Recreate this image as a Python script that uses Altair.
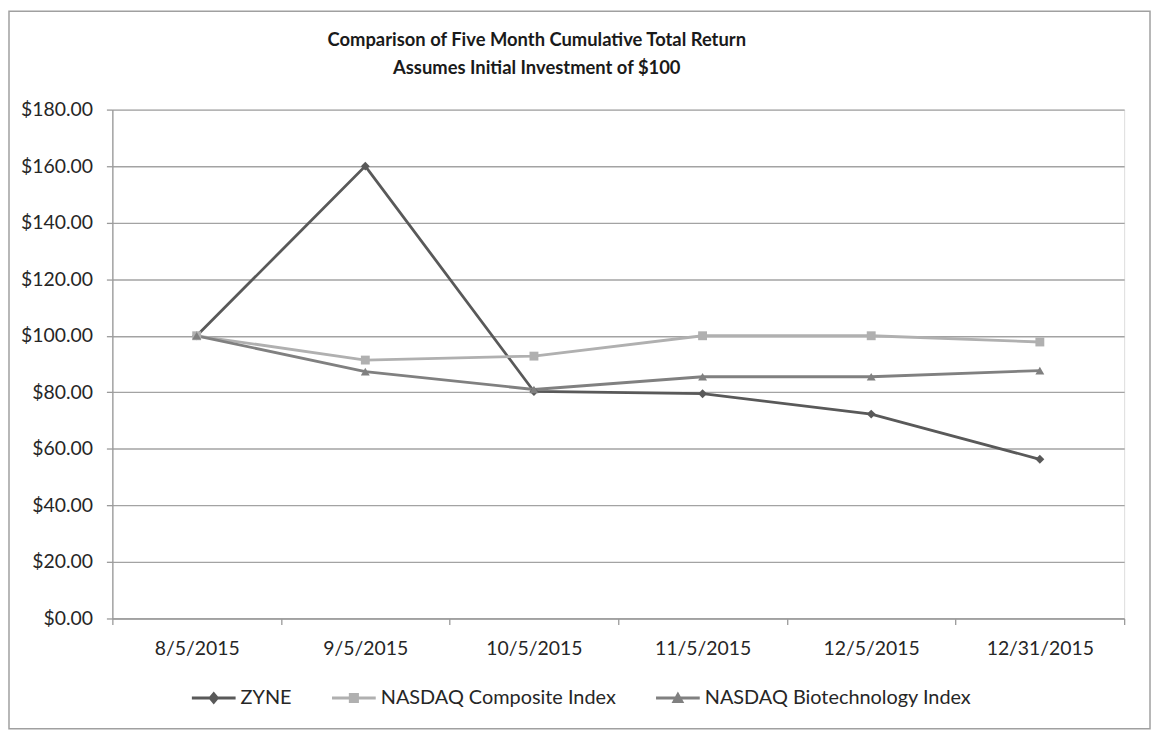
import altair as alt
import pandas as pd

dates = ["8/5/2015", "9/5/2015", "10/5/2015", "11/5/2015", "12/5/2015", "12/31/2015"]
zyne = [100.0, 160.0, 80.3, 79.5, 72.3, 56.3]
composite = [100.0, 91.4, 92.8, 100.0, 100.0, 97.8]
biotech = [100.0, 87.3, 81.0, 85.5, 85.5, 87.7]

series_names = ["ZYNE", "NASDAQ Composite Index", "NASDAQ Biotechnology Index"]
series_vals = [zyne, composite, biotech]
colors = ["#595959", "#b0b0b0", "#808080"]
shapes = ["diamond", "square", "triangle-up"]

rows = []
for name, vals in zip(series_names, series_vals):
    for d, v in zip(dates, vals):
        rows.append({"date": d, "value": v, "series": name})
df = pd.DataFrame(rows)

W, H = 1018, 512
PL, PT, PR, PB = 105, 100, 27, 112
FONT = "Lato"
FS = 19.5

# legend symbols: a short line with the series marker on it
LINE = "M-1,-0.07L1,-0.07L1,0.07L-1,0.07Z"
legend_shapes = [
    LINE + "M0,-0.3L0.25,0L0,0.3L-0.25,0Z",
    LINE + "M-0.23,-0.23L0.23,-0.23L0.23,0.23L-0.23,0.23Z",
    LINE + "M0,-0.3L0.29,0.23L-0.29,0.23Z",
]

x = alt.X("date:N", sort=dates, title=None,
          scale=alt.Scale(type="band", paddingInner=0, paddingOuter=0),
          axis=alt.Axis(labelAngle=0, labelFontSize=FS, labelColor="#262626",
                        labelPadding=15, tickSize=6, tickColor="#9a9a9a",
                        tickBand="extent", tickWidth=1.3,
                        domainColor="#9a9a9a", domainWidth=1.3, grid=False,
                        labelFont=FONT))
y = alt.Y("value:Q", title=None,
          scale=alt.Scale(domain=[0, 180], nice=False),
          axis=alt.Axis(values=list(range(0, 181, 20)), format="$.2f",
                        labelFontSize=FS, labelColor="#262626", labelPadding=14,
                        tickSize=6, tickColor="#9a9a9a", tickWidth=1.3,
                        domainColor="#9a9a9a", domainWidth=1.3,
                        gridColor="#a3a3a3", gridWidth=1.4, labelFont=FONT))

legend = alt.Legend(
    title=None, orient="none", direction="horizontal",
    legendX=80, legendY=H + 58, labelFontSize=20,
    labelColor="#262626", labelFont=FONT, labelLimit=0,
    symbolSize=1936, columnPadding=40, labelOffset=5,
    symbolOpacity=1, symbolStrokeWidth=0)

color = alt.Color("series:N", sort=series_names,
                  scale=alt.Scale(domain=series_names, range=colors),
                  legend=legend)
shape_leg = alt.Shape("series:N", sort=series_names,
                      scale=alt.Scale(domain=series_names, range=legend_shapes),
                      legend=legend)

base = alt.Chart(df)
lines = base.mark_line(strokeWidth=2.8).encode(x=x, y=y, color=color)

# invisible points carry the legend (line + marker symbols)
legend_pts = base.mark_point(filled=True, opacity=0).encode(
    x=x, y=y, color=color, shape=shape_leg)

# visible markers, one layer per series with its own marker shape
marker_layers = [
    base.transform_filter(alt.datum.series == name).mark_point(
        filled=True, size=80, opacity=1, shape=shp).encode(x=x, y=y, color=color)
    for name, shp in zip(series_names, shapes)
]

border = alt.Chart(pd.DataFrame({"a": [0]})).mark_rect(
    fill=None, stroke="#a0a0a0", strokeWidth=1.5, clip=False).encode(
    x=alt.value(-PL + 1), x2=alt.value(W + PR - 1),
    y=alt.value(-PT + 1), y2=alt.value(H + PB - 1))

chart = alt.layer(border, lines, legend_pts, *marker_layers).properties(
    width=W, height=H,
    padding={"left": PL, "top": PT, "right": PR, "bottom": PB},
    autosize=alt.AutoSizeParams(type="none"),
    title=alt.TitleParams(
        text=["Comparison  of Five Month Cumulative Total Return",
              "Assumes Initial Investment  of $100"],
        fontSize=18.5, fontWeight="bold", font=FONT, color="#1a1a1a",
        anchor="middle", dx=-82, offset=-67, lineHeight=28),
).configure_view(stroke=None).configure(background="white")

chart.save("out.html", embed_options={"renderer": "svg", "actions": False})
